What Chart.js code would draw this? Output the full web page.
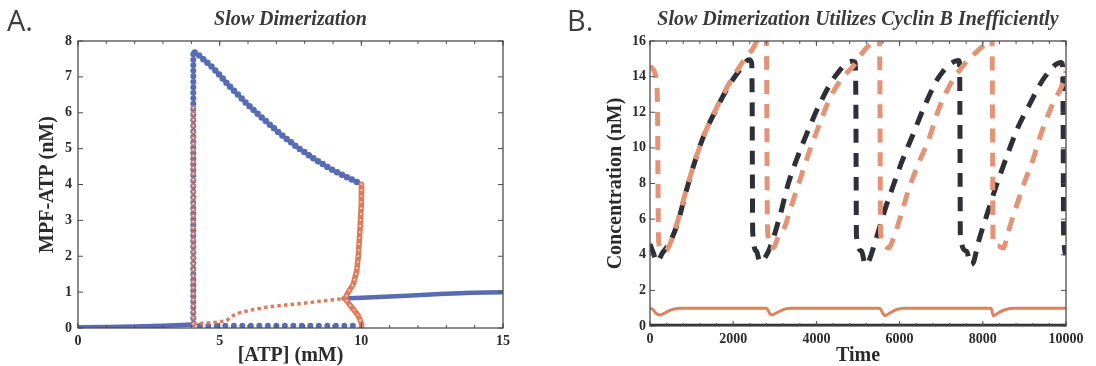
<!DOCTYPE html>
<html><head><meta charset="utf-8">
<script src="https://cdn.jsdelivr.net/npm/chart.js@4.4.1/dist/chart.umd.min.js"></script>
<style>
html,body{margin:0;padding:0;background:#fff;}
#wrap{position:relative;width:1096px;height:366px;overflow:hidden;background:#fff;}
.panel{position:absolute;top:0;height:366px;width:548px;}
.lab{position:absolute;top:0px;font-family:"Open Sans",sans-serif;font-size:29px;color:#3c3c3c;}
</style></head><body>
<div id="wrap">
<div class="panel" style="left:0"><canvas id="a" width="548" height="366"></canvas></div>
<div class="panel" style="left:548px"><canvas id="b" width="548" height="366"></canvas></div>
<div class="lab" style="left:7px">A.</div>
<div class="lab" style="left:567px">B.</div>
</div>
<script>
// ---------- Panel A data ([ATP] mM, MPF-ATP nM) ----------
const atpTicks = [0, 5, 10, 15];
const mpfTicks = [0, 1, 2, 3, 4, 5, 6, 7, 8];
const ssStableLow  = [[0,0.02],[1,0.03],[2,0.04],[3,0.06],[4.07,0.1]];
const ssUnstable   = [[4.07,0.12],[4.6,0.14],[5.0,0.17],[5.25,0.21],[5.48,0.35],[5.72,0.43],[6.1,0.5],[6.66,0.58],[7.2,0.63],[7.84,0.68],[8.6,0.75],[9.37,0.82]];
const ssStableHigh = [[9.37,0.82],[10.42,0.86],[11.6,0.9],[12.78,0.95],[13.9,0.98],[15,1.0]];
const lcMaxStable  = [[4.12,7.68],[4.19,7.66],[4.5,7.44],[4.78,7.24],[5.35,6.74],[5.95,6.26],[6.55,5.82],[7.13,5.42],[7.7,5.06],[8.31,4.73],[8.9,4.44],[9.5,4.2],[9.95,4.03]];
const lcMinStable  = [[4.3,0.06],[9.84,0.06]];
const lcVertStable = [[4.07,0.12],[4.07,7.68]];
const lcVertUnstable = [[4.07,0.12],[4.07,6.3]];
const lcUnstable10 = [[10.01,4.01],[10.0,3.47],[9.95,2.72],[9.89,1.98],[9.84,1.61],[9.72,1.23],[9.54,1.0],[9.42,0.82],[9.66,0.58],[9.89,0.35],[10.01,0.12],[10.01,0.04]];

// ---------- Panel B data (Time, Concentration nM) ----------
const timeTicks = [0, 2000, 4000, 6000, 8000, 10000];
const concTicks = [0, 2, 4, 6, 8, 10, 12, 14, 16];
const darkDashed = [[0,4.6],[80,4.1],[170,3.6],[300,4.1],[480,4.7],[680,5.9],[850,7.4],[1060,9.1],[1280,10.6],[1600,12.2],[1900,13.5],[2200,14.5],[2380,14.95],[2440,14.8],[2455,13],[2462,8],[2468,5.3],[2560,4.2],[2640,3.6],[2720,3.7],[2885,4.4],[3125,6.2],[3325,8.0],[3565,9.6],[3805,11.0],[4066,12.4],[4446,14.0],[4850,14.86],[4930,14.8],[4950,12],[4956,8],[4962,5.1],[5088,4.2],[5170,3.44],[5250,3.6],[5410,4.7],[5650,6.55],[5850,7.9],[6050,9.2],[6330,10.8],[6610,12.4],[6950,14.0],[7412,14.9],[7440,14.8],[7450,12],[7455,8],[7460,5.0],[7613,4.2],[7700,3.44],[7780,3.6],[7893,4.7],[8093,6.2],[8313,7.8],[8574,9.5],[8835,11.1],[9115,12.4],[9496,14.0],[9880,14.8],[9910,14.7],[9930,12],[9936,8],[9942,5.2],[10000,4.0]];
const orangeDashed = [[0,14.6],[100,14.3],[160,13.6],[182,12],[192,8],[205,4.8],[280,4.3],[361,4.19],[480,4.6],[680,6.0],[855,7.5],[1060,9.1],[1280,10.6],[1600,12.25],[1900,13.6],[2240,14.86],[2480,15.6],[2600,16.1],[2790,16.4],[2805,14],[2812,10],[2820,6.2],[2840,5.0],[2900,4.4],[2960,4.4],[3100,5.1],[3245,5.6],[3365,6.5],[3605,8.2],[3846,9.9],[4086,11.4],[4347,12.9],[4650,14.0],[4888,14.6],[5128,15.4],[5368,16.0],[5510,16.3],[5525,14],[5532,10],[5540,5.3],[5600,4.6],[5730,4.38],[5850,4.9],[6030,6.2],[6210,7.6],[6450,9.1],[6690,10.4],[6930,12.1],[7192,13.45],[7612,14.85],[7900,15.5],[8093,15.9],[8220,16.3],[8232,12],[8238,8],[8245,4.7],[8350,4.5],[8494,4.38],[8600,5.2],[8735,6.2],[8975,7.9],[9215,9.4],[9416,10.9],[9676,12.45],[9937,13.7],[10000,14.3]];
const orangeSolid = [[0,1.0],[60,0.95],[150,0.7],[240,0.62],[350,0.72],[500,0.9],[700,1.0],[2800,1.0],[2880,0.7],[2925,0.62],[3050,0.75],[3200,0.92],[3400,1.0],[5520,1.0],[5600,0.7],[5649,0.58],[5780,0.75],[5920,0.92],[6100,1.0],[8200,1.0],[8230,0.75],[8254,0.58],[8400,0.78],[8550,0.93],[8750,1.0],[10000,1.0]];
const darkSolid = [[0,0.04],[10000,0.04]];

// ---------- styling ----------
const BLUE = 'rgb(88,108,180)';
const ORANGE = 'rgb(225,122,88)';
const ORANGE_T = 'rgba(215,118,95,0.78)';
const SERIF = '"Liberation Serif","Times New Roman",serif';
const tickFont = {family: SERIF, size: 14, weight: 'bold'};
const axisFont = {family: SERIF, size: 20, weight: 'bold', lineHeight: 1};
const titleFont = {family: SERIF, size: 20, weight: 'bold', style: 'italic', lineHeight: 1.2};
const pts = arr => arr.map(p => ({x: p[0], y: p[1]}));

function framePlugin(xMinor, yMinor) {
  return {
    id: 'frame',
    afterDatasetsDraw(chart) {
      const {ctx, chartArea: {left, right, top, bottom}, scales: {x, y}} = chart;
      ctx.save();
      ctx.strokeStyle = '#4d4d4d';
      ctx.lineWidth = 1.3;
      ctx.strokeRect(left, top, right - left, bottom - top);
      ctx.lineWidth = 1;
      const seg = (x1, y1, x2, y2) => { ctx.beginPath(); ctx.moveTo(x1, y1); ctx.lineTo(x2, y2); ctx.stroke(); };
      x.ticks.forEach(t => { const p = x.getPixelForValue(t.value); seg(p, bottom, p, bottom - 5); seg(p, top, p, top + 5); });
      y.ticks.forEach(t => { const p = y.getPixelForValue(t.value); seg(left, p, left + 5, p); seg(right, p, right - 5, p); });
      if (xMinor) for (let v = x.min; v <= x.max + 1e-9; v += xMinor) { const p = x.getPixelForValue(v); seg(p, bottom, p, bottom - 3); seg(p, top, p, top + 3); }
      if (yMinor) for (let v = y.min; v <= y.max + 1e-9; v += yMinor) { const p = y.getPixelForValue(v); seg(left, p, left + 3, p); seg(right, p, right - 3, p); }
      ctx.restore();
    }
  };
}

function baseScales(o) {
  return {
    x: {
      type: 'linear', min: o.xmin, max: o.xmax,
      afterBuildTicks: s => { s.ticks = o.xt.map(v => ({value: v})); },
      ticks: {font: tickFont, color: '#2b2b2b', padding: o.xpad, autoSkip: false, maxRotation: 0, callback: v => String(v)},
      grid: {display: false, drawTicks: false}, border: {display: false},
      title: {display: true, text: o.xtitle, font: axisFont, color: '#2b2b2b', padding: {top: 0, bottom: 0}},
      afterFit: s => { s.height = o.xh; }
    },
    y: {
      type: 'linear', min: o.ymin, max: o.ymax,
      afterBuildTicks: s => { s.ticks = o.yt.map(v => ({value: v})); },
      ticks: {font: tickFont, color: '#2b2b2b', padding: o.ypad, autoSkip: false, callback: v => String(v)},
      grid: {display: false, drawTicks: false}, border: {display: false},
      title: {display: true, text: o.ytitle, font: axisFont, color: '#2b2b2b', padding: {top: o.ytp, bottom: 0}},
      afterFit: s => { s.width = o.yw; }
    }
  };
}

const lineDS = (data, extra) => Object.assign({
  data: pts(data), showLine: true, pointRadius: 0, pointHoverRadius: 0, tension: 0, fill: false
}, extra);

// ---------- Panel A ----------
new Chart(document.getElementById('a'), {
  type: 'line',
  data: {
    datasets: [
      lineDS(lcVertUnstable, {borderColor: 'rgba(255,255,255,0.85)', borderWidth: 1.8, borderDash: [0, 6], borderCapStyle: 'round', order: 0}),
      lineDS(lcVertUnstable, {borderColor: ORANGE_T, borderWidth: 5.5, borderDash: [0, 6], borderCapStyle: 'round', order: 1}),
      lineDS(lcUnstable10, {borderColor: 'rgba(255,255,255,0.95)', borderWidth: 1.8, borderDash: [0, 6], borderCapStyle: 'round', order: 0}),
      lineDS(lcUnstable10, {borderColor: ORANGE, borderWidth: 5.5, borderCapStyle: 'round', borderJoinStyle: 'round', order: 1}),
      lineDS(ssUnstable, {borderColor: ORANGE, borderWidth: 3.5, borderDash: [3.5, 3.2], order: 2}),
      lineDS(lcVertStable, {borderColor: BLUE, borderWidth: 6, borderDash: [0, 5.5], borderCapStyle: 'round', order: 3}),
      lineDS(lcMaxStable, {borderColor: BLUE, borderWidth: 6.5, borderDash: [0, 5.5], borderCapStyle: 'round', order: 3}),
      lineDS(lcMinStable, {borderColor: BLUE, borderWidth: 6, borderDash: [0, 8.5], borderCapStyle: 'round', order: 3}),
      lineDS(ssStableLow, {borderColor: BLUE, borderWidth: 4.5, borderCapStyle: 'round', order: 3}),
      lineDS(ssStableHigh, {borderColor: BLUE, borderWidth: 4.5, borderCapStyle: 'round', order: 3})
    ]
  },
  options: {
    responsive: false, animation: false, devicePixelRatio: 1,
    layout: {padding: {left: 0, right: 45, top: 0, bottom: 0}},
    plugins: {
      legend: {display: false}, tooltip: {enabled: false},
      title: {display: true, text: 'Slow Dimerization', fullSize: false, font: titleFont, color: '#3a3a3a', padding: {top: 8, bottom: 9}}
    },
    scales: baseScales({xmin: 0, xmax: 15, xt: atpTicks, xtitle: '[ATP] (mM)', xh: 38, xpad: 5,
                        ymin: 0, ymax: 8, yt: mpfTicks, ytitle: 'MPF-ATP (nM)', yw: 78, ypad: 6, ytp: 38})
  },
  plugins: [framePlugin(1, 0)]
});

// ---------- Panel B ----------
new Chart(document.getElementById('b'), {
  type: 'line',
  data: {
    datasets: [
      lineDS(orangeDashed, {borderColor: 'rgb(228,148,118)', borderWidth: 5, borderDash: [14, 10], cubicInterpolationMode: 'monotone', clip: 0, order: 0}),
      lineDS(darkDashed, {borderColor: 'rgb(46,48,54)', borderWidth: 5, borderDash: [14, 10], cubicInterpolationMode: 'monotone', clip: 0, order: 1}),
      lineDS(orangeSolid, {borderColor: 'rgb(226,128,92)', borderWidth: 3, cubicInterpolationMode: 'monotone', order: 2}),
      lineDS(darkSolid, {borderColor: 'rgb(45,45,48)', borderWidth: 3, order: 3})
    ]
  },
  options: {
    responsive: false, animation: false, devicePixelRatio: 1,
    layout: {padding: {left: 0, right: 30, top: 0, bottom: 0}},
    plugins: {
      legend: {display: false}, tooltip: {enabled: false},
      title: {display: true, text: 'Slow Dimerization Utilizes Cyclin B Inefficiently', fullSize: false, font: titleFont, color: '#3a3a3a', padding: {top: 8, bottom: 9}}
    },
    scales: baseScales({xmin: 0, xmax: 10000, xt: timeTicks, xtitle: 'Time', xh: 40, xpad: 5,
                        ymin: 0, ymax: 16, yt: concTicks, ytitle: 'Concentration (nM)', yw: 102, ypad: 4, ytp: 58})
  },
  plugins: [framePlugin(400, 0)]
});
</script>
</body></html>
